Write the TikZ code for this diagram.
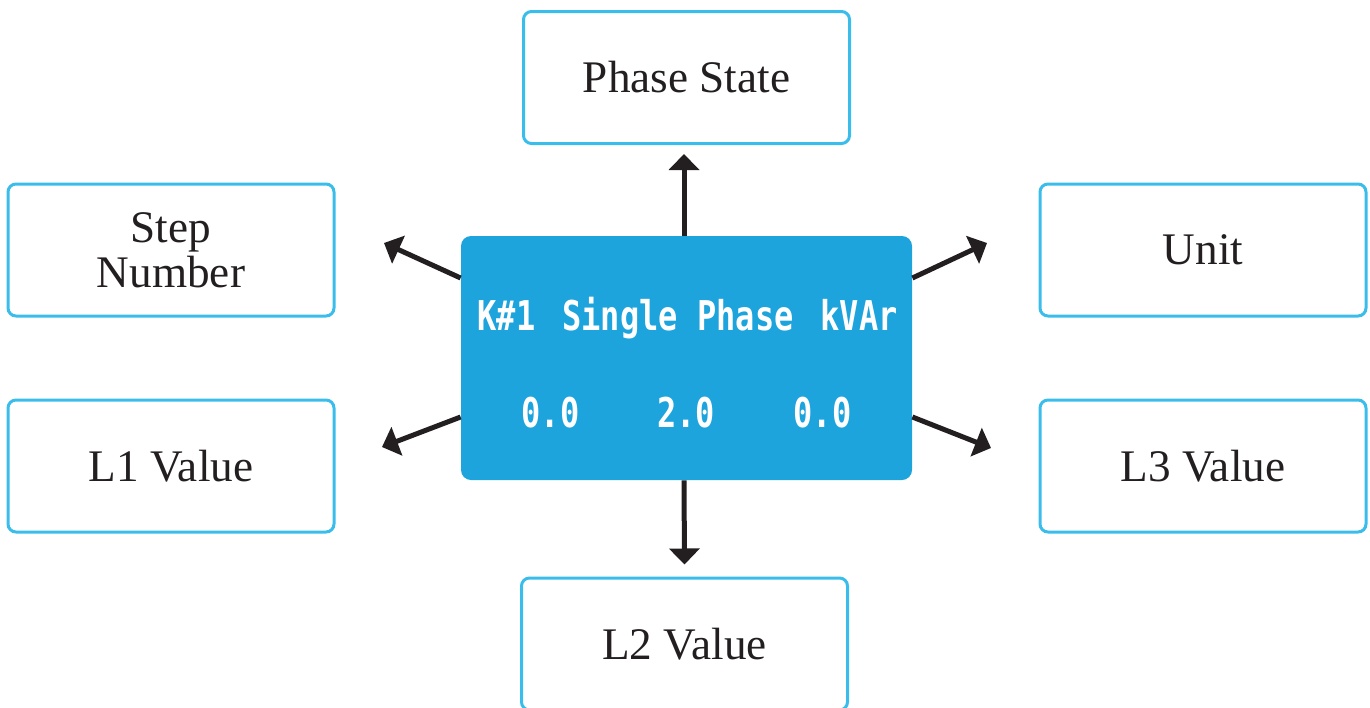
\documentclass[tikz,border=0pt]{standalone}
\usepackage{fontspec}
\setmainfont{Liberation Serif}
\newfontfamily\lcdfont[FakeStretch=0.78]{DejaVu Sans Mono Bold}
\usetikzlibrary{arrows.meta}
\definecolor{lcdblue}{RGB}{30,164,220}
\definecolor{edgeblue}{RGB}{59,189,236}
\definecolor{ink}{RGB}{35,31,32}
\begin{document}
\begin{tikzpicture}[x=0.5pt,y=-0.5pt,
  infobox/.style={draw=edgeblue, line width=1.5pt, rounded corners=4pt,
    minimum width=163pt, minimum height=66pt, text=ink, inner sep=0pt,
    font=\fontsize{22.6}{22.5}\selectfont, align=center},
  lcdbox/.style={fill=lcdblue, rounded corners=5pt, minimum width=225.5pt,
    minimum height=122pt, inner sep=0pt},
  lcdtext/.style={text=white, font=\lcdfont\fontsize{20.5}{20}\selectfont,
    anchor=base, inner sep=0pt},
  conn/.style={draw=ink, line width=2.5pt, -{Triangle[length=8pt,width=15pt]}}
]
\useasboundingbox (0,0) rectangle (1370,707);

\node[lcdbox] (lcd) at (686.5,358) {};
\node[lcdtext] (k1) at (506.5,330) {K\#1};
\node[lcdtext] (sp) at (678,330) {Single Phase};
\node[lcdtext] (kv) at (859,330) {kVAr};
\node[lcdtext] (v1) at (550.5,427) {0.0};
\node[lcdtext] (v2) at (686,427) {2.0};
\node[lcdtext] (v3) at (822.5,427) {0.0};

\node[infobox] (ps) at (686.5,77.5) {Phase State};
\node[infobox] (sn) at (171,250) {Step\\Number};
\node[infobox] (un) at (1203,250) {Unit};
\node[infobox] (l1) at (171,466) {L1 Value};
\node[infobox] (l3) at (1203,466) {L3 Value};
\node[infobox] (l2) at (684.5,644) {L2 Value};

\coordinate (tsn) at (384,243);
\coordinate (tun) at (987,243);
\coordinate (tl1) at (382,447);
\coordinate (tl3) at (991,448);

\draw[conn] ([xshift=-1.25pt]lcd.north) -- ([xshift=-1.25pt,yshift=-4.5pt]ps.south);
\draw[conn] ([xshift=-1.25pt]lcd.south) -- ([yshift=6pt]l2.north);
\draw[conn] ([yshift=40pt]lcd.west) -- (tsn);
\draw[conn] ([yshift=40pt]lcd.east) -- (tun);
\draw[conn] ([yshift=-29.5pt]lcd.west) -- (tl1);
\draw[conn] ([yshift=-29.5pt]lcd.east) -- (tl3);
\end{tikzpicture}
\end{document}
